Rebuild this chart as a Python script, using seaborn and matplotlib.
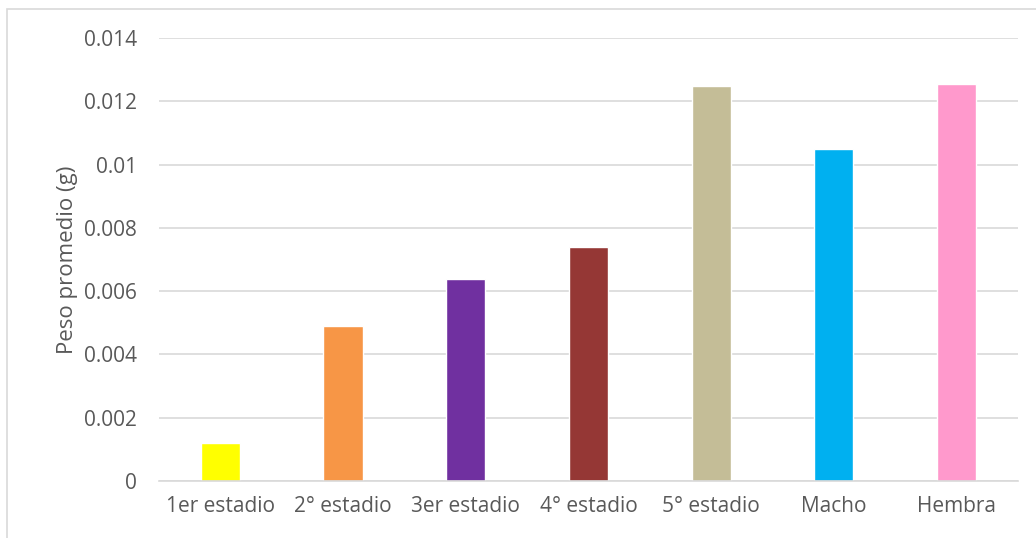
import matplotlib
matplotlib.use("Agg")
import matplotlib.pyplot as plt
import matplotlib.patches as mpatches
from matplotlib.ticker import FuncFormatter, MultipleLocator
import seaborn as sns
import pandas as pd

# data
categories = ["1er estadio", "2° estadio", "3er estadio", "4° estadio",
              "5° estadio", "Macho", "Hembra"]
peso = [0.0012, 0.0049, 0.0064, 0.0074, 0.0125, 0.0105, 0.01255]
colors = ["#FFFF00", "#F79646", "#7030A0", "#953735",
          "#C4BD97", "#00B0F0", "#FF99CC"]

df = pd.DataFrame({"estadio": categories, "peso": peso})

sns.set_theme(style="white")
plt.rcParams["font.family"] = ["Open Sans", "DejaVu Sans"]
text_color = "#595959"

fig = plt.figure(figsize=(10.36, 5.38), dpi=100)
ax = fig.add_axes([0.1535, 0.106, 0.829, 0.823])

sns.barplot(data=df, x="estadio", y="peso", hue="estadio",
            palette=colors, width=0.32, legend=False, ax=ax,
            saturation=1)

ax.set_ylim(0, 0.014)
ax.yaxis.set_major_locator(MultipleLocator(0.002))
ax.yaxis.set_major_formatter(FuncFormatter(lambda v, _: f"{v:g}"))
ax.grid(axis="y", color="#D9D9D9", linewidth=1.2)
ax.set_axisbelow(True)
for s in ["top", "right", "left"]:
    ax.spines[s].set_visible(False)
ax.spines["bottom"].set_color("#D9D9D9")
ax.spines["bottom"].set_linewidth(1.2)

ax.tick_params(axis="both", length=0, labelsize=15, colors=text_color)
ax.tick_params(axis="x", pad=11)
ax.tick_params(axis="y", pad=16)
ax.set_xlabel("")
ax.set_ylabel("Peso promedio (g)", fontsize=16, color=text_color, labelpad=4)

# outer chart frame
frame = mpatches.Rectangle((7 / 1036, -0.01), 1.1, (538 - 9) / 538 + 0.01,
                           transform=fig.transFigure, fill=False,
                           edgecolor="#D9D9D9", linewidth=1.2, clip_on=False)
fig.patches.append(frame)

fig.savefig("out.png", dpi=100)
